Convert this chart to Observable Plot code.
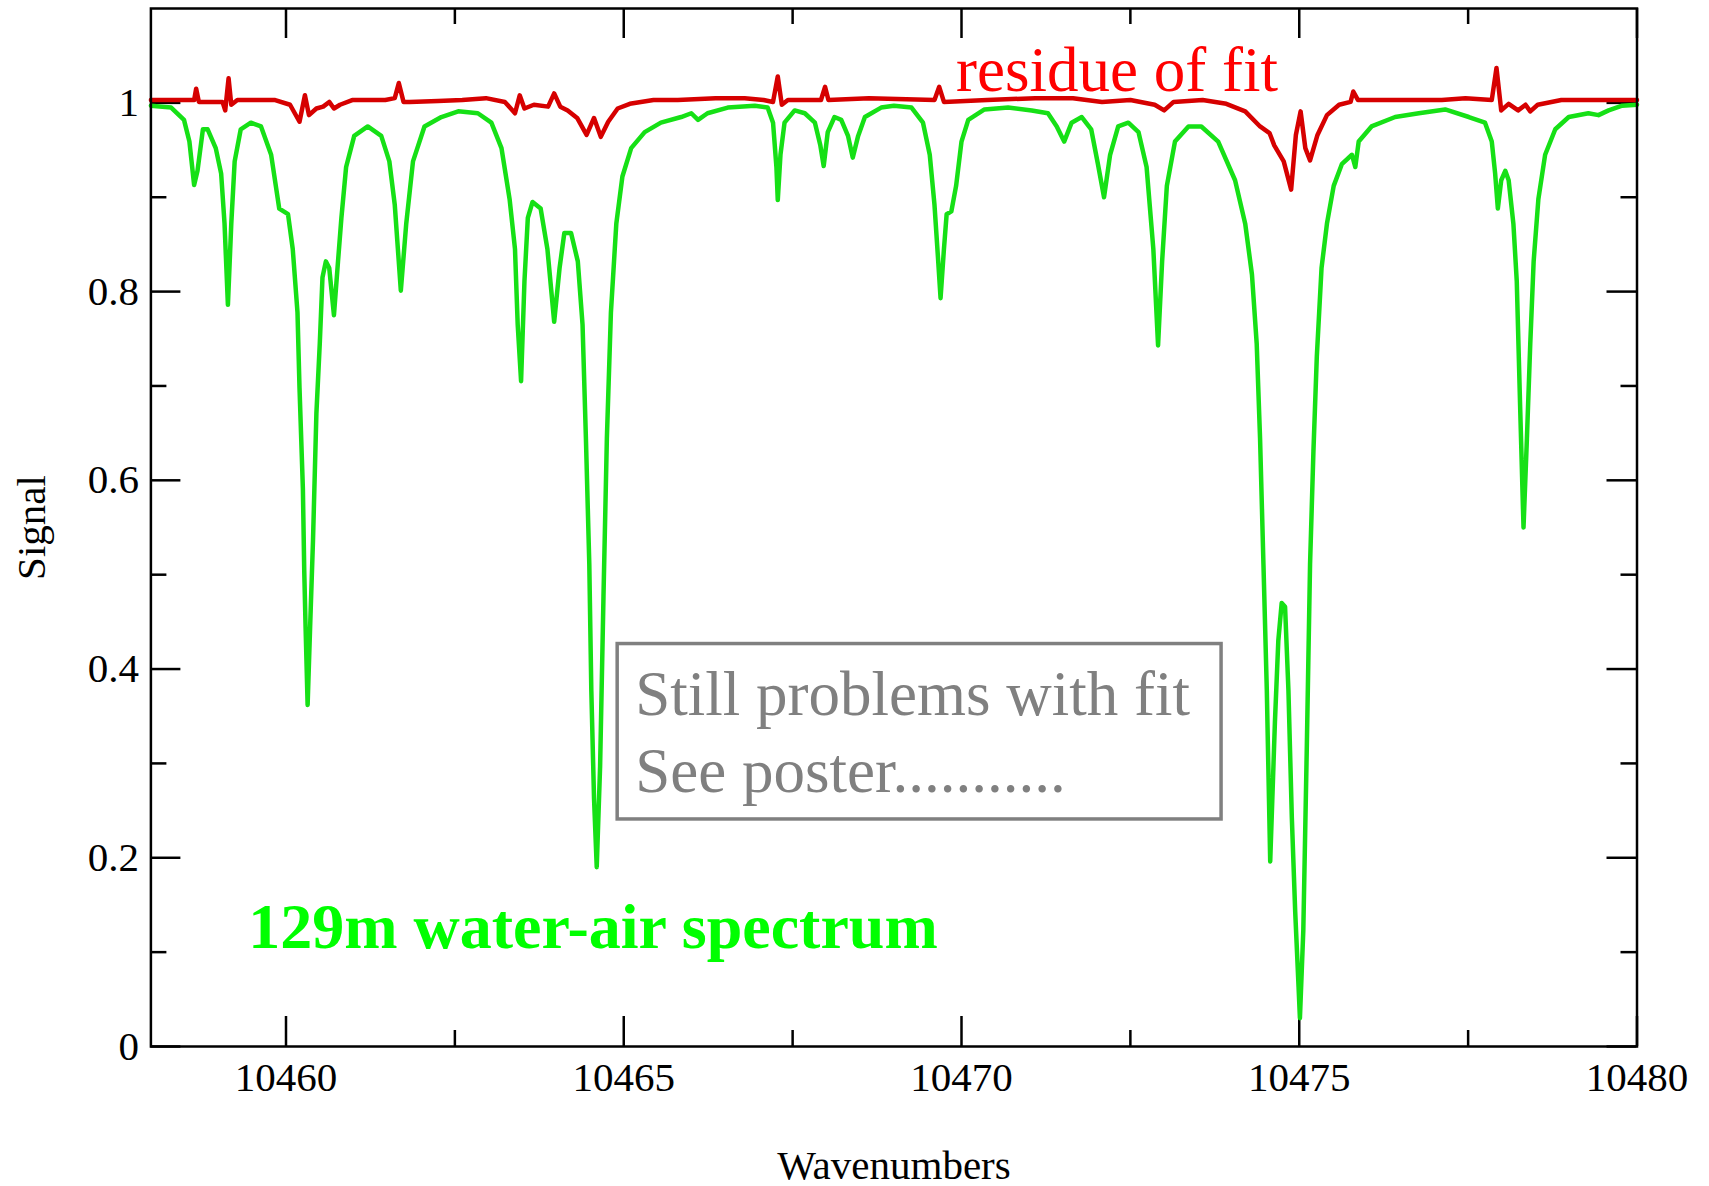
<!DOCTYPE html>
<html>
<head>
<meta charset="utf-8">
<script src="https://cdn.jsdelivr.net/npm/d3@7"></script>
<script src="https://cdn.jsdelivr.net/npm/@observablehq/plot@0.6"></script>
<style>
  html, body { margin: 0; padding: 0; background: #ffffff; }
  #chart svg { display: block; }
</style>
</head>
<body>
<div id="chart"></div>
<script>
// ---- Data ----
const spectrumWavenumbers = [
  10458.00,10458.30,10458.49,10458.57,10458.64,10458.69,10458.77,10458.84,10458.96,10459.04,
  10459.09,10459.14,10459.19,10459.24,10459.33,10459.48,10459.63,10459.78,10459.90,10460.03,
  10460.10,10460.17,10460.20,10460.25,10460.27,10460.29,10460.32,10460.36,10460.40,10460.45,
  10460.50,10460.54,10460.59,10460.64,10460.71,10460.77,10460.82,10460.89,10461.01,10461.21,
  10461.41,10461.53,10461.61,10461.70,10461.78,10461.88,10462.05,10462.30,10462.55,10462.84,
  10463.04,10463.19,10463.31,10463.39,10463.43,10463.48,10463.53,10463.58,10463.65,10463.77,
  10463.87,10463.97,10464.05,10464.12,10464.22,10464.32,10464.39,10464.44,10464.49,10464.52,
  10464.56,10464.60,10464.65,10464.70,10464.75,10464.81,10464.89,10464.98,10465.11,10465.31,
  10465.55,10465.85,10466.00,10466.10,10466.24,10466.54,10466.94,10467.13,10467.21,10467.26,
  10467.28,10467.32,10467.38,10467.53,10467.68,10467.83,10467.91,10467.96,10468.02,10468.12,
  10468.22,10468.32,10468.39,10468.47,10468.57,10468.81,10469.00,10469.26,10469.43,10469.53,
  10469.60,10469.65,10469.69,10469.74,10469.78,10469.85,10469.92,10470.00,10470.10,10470.34,
  10470.69,10471.04,10471.28,10471.41,10471.52,10471.63,10471.78,10471.92,10472.02,10472.11,
  10472.20,10472.32,10472.47,10472.62,10472.74,10472.84,10472.91,10472.97,10473.04,10473.16,
  10473.36,10473.55,10473.80,10474.05,10474.20,10474.30,10474.37,10474.42,10474.47,10474.52,
  10474.57,10474.64,10474.69,10474.74,10474.79,10474.84,10474.89,10474.94,10474.99,10475.01,
  10475.06,10475.11,10475.16,10475.21,10475.26,10475.33,10475.41,10475.51,10475.63,10475.78,
  10475.83,10475.88,10476.07,10476.42,10476.77,10477.16,10477.51,10477.75,10477.85,10477.90,
  10477.94,10477.99,10478.05,10478.10,10478.17,10478.22,10478.27,10478.32,10478.37,10478.42,
  10478.47,10478.54,10478.64,10478.79,10478.99,10479.28,10479.43,10479.58,10479.78,10480.00
];
const spectrumSignal = [
  0.997,0.995,0.982,0.959,0.913,0.928,0.972,0.972,0.952,0.925,
  0.872,0.786,0.872,0.938,0.972,0.979,0.975,0.945,0.888,0.882,
  0.845,0.778,0.698,0.591,0.504,0.444,0.362,0.451,0.537,0.671,
  0.745,0.815,0.832,0.825,0.775,0.832,0.878,0.932,0.965,0.975,
  0.965,0.938,0.892,0.801,0.872,0.938,0.975,0.985,0.991,0.989,
  0.979,0.952,0.898,0.845,0.765,0.705,0.811,0.878,0.895,0.888,
  0.845,0.768,0.825,0.862,0.862,0.832,0.765,0.644,0.511,0.377,
  0.263,0.190,0.297,0.477,0.644,0.778,0.872,0.922,0.952,0.969,
  0.979,0.985,0.989,0.982,0.989,0.995,0.997,0.995,0.979,0.932,
  0.897,0.945,0.979,0.992,0.989,0.979,0.955,0.933,0.969,0.985,
  0.982,0.965,0.942,0.965,0.985,0.995,0.997,0.995,0.979,0.945,
  0.892,0.838,0.793,0.845,0.882,0.885,0.912,0.959,0.982,0.993,
  0.995,0.992,0.989,0.975,0.959,0.979,0.985,0.972,0.935,0.900,
  0.945,0.975,0.979,0.969,0.932,0.845,0.743,0.832,0.912,0.959,
  0.975,0.975,0.959,0.918,0.872,0.818,0.745,0.644,0.511,0.377,
  0.196,0.344,0.430,0.470,0.466,0.377,0.243,0.143,0.063,0.030,
  0.123,0.310,0.511,0.631,0.731,0.825,0.872,0.912,0.935,0.945,
  0.932,0.959,0.975,0.985,0.989,0.993,0.985,0.979,0.959,0.925,
  0.888,0.918,0.928,0.918,0.872,0.811,0.678,0.550,0.644,0.745,
  0.832,0.898,0.945,0.972,0.985,0.989,0.987,0.992,0.997,0.998
];
const residueWavenumbers = [
  10458.00,10458.64,10458.67,10458.71,10459.06,10459.10,10459.15,10459.19,10459.28,10459.84,
  10460.06,10460.20,10460.28,10460.34,10460.45,10460.55,10460.64,10460.71,10460.80,10460.98,
  10461.47,10461.61,10461.67,10461.74,10461.83,10462.25,10462.61,10462.96,10463.24,10463.39,
  10463.46,10463.53,10463.67,10463.88,10463.97,10464.06,10464.17,10464.31,10464.45,10464.56,
  10464.66,10464.77,10464.91,10465.09,10465.44,10465.80,10466.36,10466.79,10467.07,10467.21,
  10467.28,10467.34,10467.43,10467.92,10467.98,10468.03,10468.63,10469.60,10469.67,10469.74,
  10470.38,10471.09,10471.65,10472.08,10472.50,10472.86,10473.00,10473.14,10473.57,10473.92,
  10474.20,10474.42,10474.56,10474.63,10474.77,10474.88,10474.95,10475.02,10475.09,10475.16,
  10475.27,10475.41,10475.59,10475.76,10475.80,10475.87,10476.40,10477.11,10477.46,10477.85,
  10477.92,10477.99,10478.10,10478.24,10478.35,10478.42,10478.53,10478.88,10479.59,10480.00
];
const residueSignal = [
  1.003,1.003,1.015,1.001,1.001,0.992,1.026,0.998,1.003,1.003,
  0.998,0.980,1.008,0.987,0.994,0.996,1.001,0.994,0.998,1.003,
  1.003,1.005,1.021,1.001,1.001,1.002,1.003,1.005,1.001,0.989,
  1.008,0.994,0.998,0.996,1.010,0.996,0.992,0.984,0.966,0.984,
  0.964,0.980,0.994,0.999,1.003,1.003,1.005,1.005,1.003,1.001,
  1.028,0.998,1.003,1.003,1.017,1.003,1.005,1.003,1.017,1.001,
  1.003,1.005,1.005,1.001,1.003,0.998,0.992,1.001,1.003,0.999,
  0.991,0.975,0.968,0.955,0.938,0.908,0.966,0.991,0.952,0.939,
  0.966,0.987,0.998,1.001,1.012,1.003,1.003,1.003,1.005,1.003,
  1.037,0.992,0.999,0.992,0.998,0.991,0.998,1.003,1.003,1.003
];
const xMajorTicks = [10460, 10465, 10470, 10475, 10480];
const xMinorTicks = [10462.5, 10467.5, 10472.5, 10477.5];
const yMajorTicks = [0, 0.2, 0.4, 0.6, 0.8, 1];
const yMajorLabels = ["0", "0.2", "0.4", "0.6", "0.8", "1"];
const yMinorTicks = [0.1, 0.3, 0.5, 0.7, 0.9];
const xTitle = "Wavenumbers";
const yTitle = "Signal";
const residueLabel = "residue of fit";
const spectrumLabel = "129m water-air spectrum";
const noteLines = ["Still problems with fit", "See poster..........."];

// ---- Layout ----
const W = 1709, H = 1186;
const mL = 150.4, mR = 72.5, mT = 8, mB = 140;
const frameW = W - mL - mR, frameH = H - mT - mB;
const majorLen = 30, minorLen = 16;
const serif = "'Liberation Serif', 'Times New Roman', Times, serif";

const spectrum = spectrumWavenumbers.map((x, i) => ({x, y: spectrumSignal[i]}));
const residue = residueWavenumbers.map((x, i) => ({x, y: residueSignal[i]}));
const id = d => d;

const chart = Plot.plot({
  width: W,
  height: H,
  marginLeft: mL,
  marginRight: mR,
  marginTop: mT,
  marginBottom: mB,
  style: {fontFamily: serif, fontSize: "41px", color: "#000", background: "#fff"},
  x: {domain: [10458, 10480], label: null},
  y: {domain: [0, 1.1], label: null},
  marks: [
    Plot.axisX({ticks: xMajorTicks, tickSize: 0, tickPadding: 15, tickFormat: d => String(d),
                fontSize: 41, fontFamily: serif, fill: "#000", label: null}),
    Plot.axisY({ticks: yMajorTicks, tickSize: 0, tickPadding: 12,
                tickFormat: d => yMajorLabels[yMajorTicks.indexOf(d)],
                fontSize: 41, fontFamily: serif, fill: "#000", label: null}),
    // inward ticks on all four sides
    Plot.tickX(xMajorTicks, {x: id, insetTop: frameH - majorLen, stroke: "#000", strokeWidth: 2.5}),
    Plot.tickX(xMinorTicks, {x: id, insetTop: frameH - minorLen, stroke: "#000", strokeWidth: 2.5}),
    Plot.tickX(xMajorTicks, {x: id, insetBottom: frameH - majorLen, stroke: "#000", strokeWidth: 2.5}),
    Plot.tickX(xMinorTicks, {x: id, insetBottom: frameH - minorLen, stroke: "#000", strokeWidth: 2.5}),
    Plot.tickY(yMajorTicks, {y: id, insetRight: frameW - majorLen, stroke: "#000", strokeWidth: 2.5}),
    Plot.tickY(yMinorTicks, {y: id, insetRight: frameW - minorLen, stroke: "#000", strokeWidth: 2.5}),
    Plot.tickY(yMajorTicks, {y: id, insetLeft: frameW - majorLen, stroke: "#000", strokeWidth: 2.5}),
    Plot.tickY(yMinorTicks, {y: id, insetLeft: frameW - minorLen, stroke: "#000", strokeWidth: 2.5}),
    // spectra
    Plot.line(spectrum, {x: "x", y: "y", stroke: "#16e016", strokeWidth: 4.5, strokeLinejoin: "round"}),
    Plot.line(residue, {x: "x", y: "y", stroke: "#d60000", strokeWidth: 4.5, strokeLinejoin: "round"}),
    // annotation box
    Plot.rect([{x1: 10464.91, x2: 10473.85, y1: 0.2406, y2: 0.4265}],
              {x1: "x1", x2: "x2", y1: "y1", y2: "y2", fill: "none", stroke: "#808080", strokeWidth: 3.5}),
    Plot.text([{x: 10465.17, y: 0.3513, t: noteLines[0]}, {x: 10465.17, y: 0.2702, t: noteLines[1]}],
              {x: "x", y: "y", text: "t", textAnchor: "start", lineAnchor: "bottom",
               fontSize: 63, fontFamily: serif, fill: "#808080"}),
    Plot.text([{x: 10469.92, y: 1.0131, t: residueLabel}],
              {x: "x", y: "y", text: "t", textAnchor: "start", lineAnchor: "bottom",
               fontSize: 63, fontFamily: serif, fill: "#ff0000"}),
    Plot.text([{x: 10459.44, y: 0.1039, t: spectrumLabel}],
              {x: "x", y: "y", text: "t", textAnchor: "start", lineAnchor: "bottom",
               fontSize: 64, fontWeight: "bold", fontFamily: serif, fill: "#00ff00"}),
    // axis titles
    Plot.text([yTitle], {text: id, frameAnchor: "left", dx: -119, rotate: -90,
                         textAnchor: "middle", lineAnchor: "middle",
                         fontSize: 41, fontFamily: serif, fill: "#000"}),
    Plot.text([xTitle], {text: id, frameAnchor: "bottom", dy: 132,
                         textAnchor: "middle", lineAnchor: "bottom",
                         fontSize: 41, fontFamily: serif, fill: "#000"}),
    Plot.frame({stroke: "#000", strokeWidth: 2.5})
  ]
});
document.getElementById("chart").append(chart);
</script>
</body>
</html>
